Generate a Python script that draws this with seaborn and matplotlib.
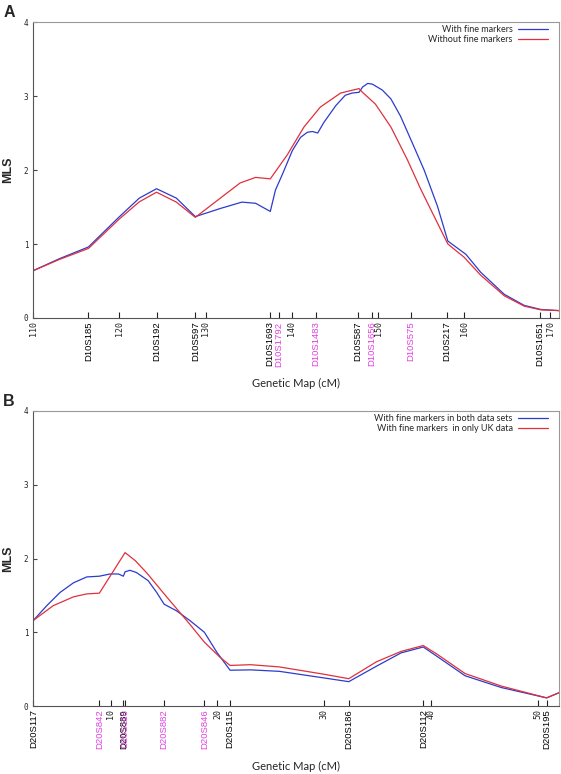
import numpy as np
import pandas as pd
import seaborn as sns
import matplotlib
matplotlib.use("Agg")
import matplotlib.pyplot as plt

# ---------------- Panel A data (chromosome 10) ----------------
a_blue_x = [110, 113, 116.4, 120, 122.3, 124.3, 126.6, 128.8, 131.7, 134.2, 135.8, 137.5,
            138.1, 138.9, 140.05, 141.0, 141.8, 142.4, 143.0, 143.7, 145.1, 146.2, 147.0,
            147.8, 148.2, 148.8, 149.35, 150.5, 151.5, 152.6, 154.0, 155.35, 156.9, 158.1,
            160.2, 161.9, 164.65, 166.97, 168.9, 171.0]
a_blue_y = [0.64, 0.80, 0.96, 1.37, 1.62, 1.747, 1.62, 1.37, 1.48, 1.566, 1.55, 1.44,
            1.73, 1.94, 2.26, 2.44, 2.51, 2.52, 2.50, 2.64, 2.87, 3.01, 3.04,
            3.05, 3.12, 3.17, 3.16, 3.08, 2.96, 2.73, 2.36, 2.0, 1.51, 1.04,
            0.86, 0.62, 0.32, 0.17, 0.115, 0.10]
a_red_x = [110, 113, 116.4, 120, 122.3, 124.3, 126.6, 128.8, 131.7, 134.0, 135.8, 137.5,
           139.5, 141.4, 143.3, 145.66, 147.8, 148.2, 149.7, 151.5, 153.4, 155.0, 158.1,
           160.0, 161.9, 164.65, 166.97, 168.9, 171.0]
a_red_y = [0.64, 0.79, 0.94, 1.34, 1.57, 1.70, 1.566, 1.36, 1.62, 1.825, 1.90, 1.88,
           2.21, 2.58, 2.85, 3.04, 3.10, 3.05, 2.89, 2.58, 2.14, 1.73, 1.0,
           0.82, 0.58, 0.30, 0.16, 0.11, 0.10]
a_num_ticks = [110, 120, 130, 140, 150, 160, 170]
a_mark_pos = [116.4, 124.3, 128.8, 137.45, 138.5, 142.8, 147.65, 149.3, 153.8, 158.0, 168.75]
a_mark_lab = ["D10S185", "D10S192", "D10S597", "D10S1693", "D10S1792", "D10S1483",
              "D10S587", "D10S1656", "D10S575", "D10S217", "D10S1651"]
a_mark_fine = [False, False, False, False, True, True, False, True, True, False, False]
a_legend = ["With fine markers", "Without fine markers"]

# ---------------- Panel B data (chromosome 20) ----------------
b_blue_x = [2.74, 4.0, 5.25, 6.5, 7.75, 8.93, 9.93, 10.72, 11.18, 11.34, 11.8, 12.4, 13.5,
            14.3, 15.0, 16.17, 17.4, 18.77, 19.93, 21.18, 23.1, 25.8, 30.0, 32.3, 34.9,
            37.2, 39.28, 40.6, 43.2, 46.6, 50.84, 52.0]
b_blue_y = [1.16, 1.36, 1.54, 1.67, 1.75, 1.76, 1.79, 1.79, 1.76, 1.82, 1.84, 1.81, 1.70,
            1.54, 1.38, 1.29, 1.16, 1.0, 0.73, 0.485, 0.49, 0.47, 0.38, 0.33, 0.54,
            0.72, 0.80, 0.67, 0.41, 0.25, 0.11, 0.18]
b_red_x = [2.74, 4.6, 6.5, 7.75, 8.93, 11.34, 12.3, 13.4, 15.0, 17.4, 18.77, 20.24, 21.18,
           23.1, 25.8, 30.0, 32.3, 34.9, 37.2, 39.28, 40.6, 43.2, 46.6, 50.84, 52.0]
b_red_y = [1.16, 1.36, 1.48, 1.52, 1.53, 2.08, 1.97, 1.80, 1.52, 1.11, 0.865, 0.66, 0.55,
           0.56, 0.53, 0.43, 0.37, 0.60, 0.74, 0.82, 0.70, 0.44, 0.27, 0.11, 0.18]
b_num_ticks = [10, 20, 30, 40, 50]
b_mark_pos = [2.74, 8.93, 11.18, 11.34, 15.0, 18.77, 21.18, 32.3, 39.28, 50.84]
b_mark_lab = ["D20S117", "D20S842", "D20S889", "D20S116", "D20S882", "D20S846",
              "D20S115", "D20S186", "D20S112", "D20S195"]
b_mark_fine = [False, True, False, True, True, True, False, False, False, False]
b_legend = ["With fine markers in both data sets", "With fine markers  in only UK data"]

y_ticks = [0, 1, 2, 3, 4]

BLUE = "#2b3ccc"
RED = "#e0303c"
MAG = "#e040e0"

sns.set_style("white")
plt.rcParams["font.family"] = ["Liberation Sans", "DejaVu Sans"]

W, H = 561, 774
fig = plt.figure(figsize=(W / 100, H / 100), dpi=100)


def px_axes(left, top, right, bottom):
    return fig.add_axes([left / W, (H - bottom) / H, (right - left) / W, (bottom - top) / H])


def panel(ax, bx, by, rx, ry, labels, xlim, num_ticks, mpos, mlab, mfine):
    df = pd.concat([
        pd.DataFrame({"cM": bx, "MLS": by, "series": labels[0]}),
        pd.DataFrame({"cM": rx, "MLS": ry, "series": labels[1]}),
    ])
    sns.lineplot(data=df, x="cM", y="MLS", hue="series", palette=[BLUE, RED],
                 estimator=None, sort=False, linewidth=0.9, ax=ax)
    ax.set_xlim(*xlim)
    ax.set_ylim(0, 4)
    ax.set_xlabel("")
    ax.set_ylabel("")
    for s in ax.spines.values():
        s.set_color("#555555")
        s.set_linewidth(0.8)
        s.set_visible(True)
    ax.spines["top"].set_color("#999999")
    ax.spines["right"].set_color("#999999")
    # x ticks: numbers + markers
    pos = list(num_ticks) + list(mpos)
    labs = [str(n) for n in num_ticks] + list(mlab)
    kinds = ["num"] * len(num_ticks) + ["fine" if f else "mark" for f in mfine]
    ax.set_xticks(pos)
    ax.set_xticklabels(labs, rotation=90)
    for t, k in zip(ax.get_xticklabels(), kinds):
        t.set_va("top")
        t.set_ha("center")
        if k == "num":
            t.set_fontfamily(["DejaVu Sans Mono"])
            t.set_fontsize(6)
            t.set_color("#222222")
        else:
            t.set_fontfamily(["Liberation Sans", "DejaVu Sans"])
            t.set_fontsize(6.8)
            t.set_color(MAG if k == "fine" else "black")
    ax.tick_params(axis="x", direction="in", length=4.5, width=0.8, pad=2.5,
                   bottom=True, color="#222222")
    ax.set_yticks(y_ticks)
    ax.set_yticklabels([str(v) for v in y_ticks], fontsize=5.5, fontfamily="DejaVu Sans Mono")
    ax.tick_params(axis="y", direction="in", length=3, width=0.8, pad=3.5,
                   left=True, color="#444444")
    leg = ax.legend(loc="upper right", bbox_to_anchor=(0.979, 0.99), frameon=False,
                    markerfirst=False, handlelength=3.3, handletextpad=0.6,
                    labelspacing=0.12, borderpad=0, borderaxespad=0,
                    prop={"family": ["Lato", "DejaVu Sans"], "size": 6.5})
    for t in leg.get_texts():
        t.set_ha("right")
    for line in leg.get_lines():
        line.set_linewidth(0.9)


axA = px_axes(33.3, 22, 559, 318)
panel(axA, a_blue_x, a_blue_y, a_red_x, a_red_y, a_legend, (110, 171.0),
      a_num_ticks, a_mark_pos, a_mark_lab, a_mark_fine)

axB = px_axes(33.3, 411, 559, 706)
panel(axB, b_blue_x, b_blue_y, b_red_x, b_red_y, b_legend, (2.74, 52.0),
      b_num_ticks, b_mark_pos, b_mark_lab, b_mark_fine)

xc = (33.3 + 559) / 2 / W
fig.text(xc, 1 - 383 / H, "Genetic Map (cM)", ha="center", va="center", fontsize=8,
         family=["Lato", "DejaVu Sans"])
fig.text(xc, 1 - 766 / H, "Genetic Map (cM)", ha="center", va="center", fontsize=8,
         family=["Lato", "DejaVu Sans"])
fig.text(8.5 / W, 1 - 170 / H, "MLS", rotation=90, ha="center", va="center",
         fontsize=9, fontweight="bold")
fig.text(8.5 / W, 1 - 559 / H, "MLS", rotation=90, ha="center", va="center",
         fontsize=9, fontweight="bold")
fig.text(9 / W, 1 - 12.5 / H, "A", ha="center", va="center", fontsize=11.5, fontweight="bold")
fig.text(9 / W, 1 - 401 / H, "B", ha="center", va="center", fontsize=11.5, fontweight="bold")

fig.savefig("out.png", dpi=100)
